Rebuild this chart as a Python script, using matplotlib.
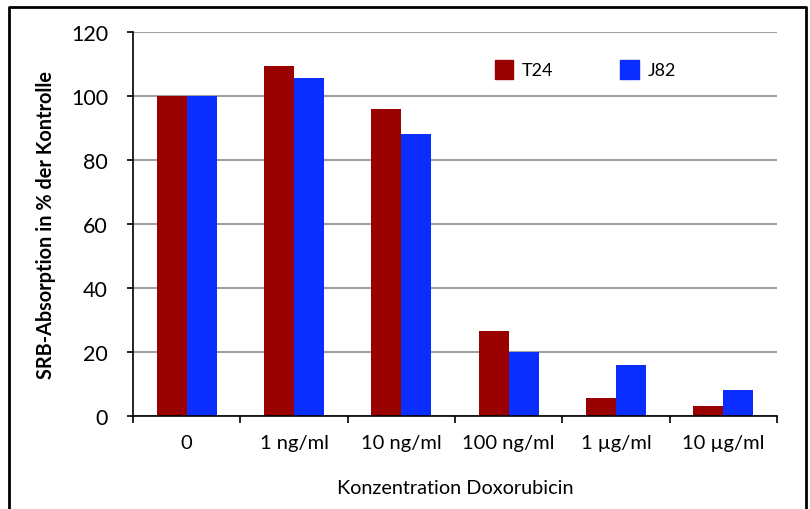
import matplotlib
matplotlib.use('Agg')
import matplotlib.pyplot as plt
from matplotlib.lines import Line2D
from matplotlib.patches import Patch
import numpy as np

plt.rcParams['font.family'] = ['Lato', 'DejaVu Sans']

categories = ['0', '1 ng/ml', '10 ng/ml', '100 ng/ml', '1 µg/ml', '10 µg/ml']
t24 = [100, 109.5, 96, 26.5, 5.5, 3]
j82 = [100, 105.5, 88, 20, 16, 8]

red = '#990000'
blue = '#0A2EFF'

fig = plt.figure(figsize=(8.1, 5.1), dpi=100)
ax = fig.add_axes([133 / 810, 1 - 417 / 510, 644 / 810, 384 / 510])

x = np.arange(len(categories))
w = 0.28
ax.bar(x - w / 2, t24, width=w, color=red, zorder=3)
ax.bar(x + w / 2, j82, width=w, color=blue, zorder=3)

ax.set_xlim(-0.5, len(categories) - 0.5)
ax.set_ylim(0, 120)
ax.set_yticks(range(0, 121, 20))
ax.yaxis.grid(True, color='#a0a0a0', linewidth=1.5, zorder=0)
ax.tick_params(axis='y', labelsize=15.5, length=4, width=1.2, pad=14)

# category labels in the middle, tick marks on the boundaries
ax.set_xticks(x)
ax.set_xticklabels(categories)
ax.set_xticks(np.arange(-0.5, len(categories)), minor=True)
ax.tick_params(axis='x', which='major', length=0, labelsize=14.5, pad=13)
ax.tick_params(axis='x', which='minor', length=5, width=1.2)

for s in ['top', 'right']:
    ax.spines[s].set_visible(False)
ax.spines['left'].set_linewidth(1.2)
ax.spines['bottom'].set_linewidth(1.2)
ax.spines['bottom'].set_zorder(4)

ax.set_ylabel('SRB-Absorption in % der Kontrolle', fontsize=14.3, fontweight='bold')
ax.yaxis.set_label_coords(-0.12, 0.5)
ax.set_xlabel('Konzentration Doxorubicin', fontsize=14.3)
ax.xaxis.set_label_coords(0.5, -0.165)

handles = [Patch(color=red, label='T24'), Patch(color=blue, label='J82')]
ax.legend(handles=handles, ncol=2, frameon=False, fontsize=13,
          loc='upper left', bbox_to_anchor=(0.537, 0.97),
          handlelength=1.0, handleheight=1.25, handletextpad=0.5,
          columnspacing=3.7)

# frame around the figure (open at the bottom)
fx0, fx1, fy1 = 9 / 810, 806 / 810, 1 - 8 / 510
fig.add_artist(Line2D([fx0, fx0, fx1, fx1], [0, fy1, fy1, 0],
                      transform=fig.transFigure, color='black', linewidth=2))

fig.savefig('out.png', dpi=100)
